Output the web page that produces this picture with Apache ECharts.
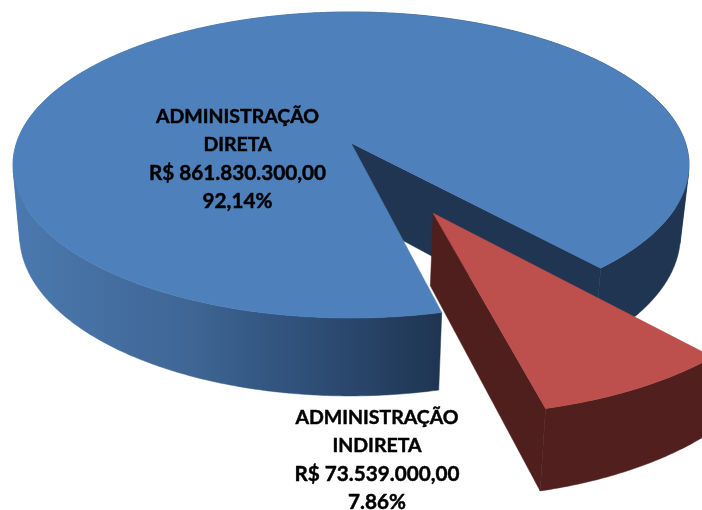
<!DOCTYPE html>
<html>
<head>
<meta charset="utf-8">
<style>html,body{margin:0;padding:0;background:#fff}#c{width:702px;height:510px}</style>
<script src="https://cdn.jsdelivr.net/npm/echarts@6/dist/echarts.min.js"></script>
</head>
<body>
<div id="c"></div>
<script>
var categories = ['ADMINISTRAÇÃO\nDIRETA', 'ADMINISTRAÇÃO\nINDIRETA'];
var values = [861830300, 73539000];
var amountLabels = ['R$ 861.830.300,00', 'R$ 73.539.000,00'];
var percentLabels = ['92,14%', '7.86%'];
var explode = [0, 0.496];

var total = values.reduce(function (a, b) { return a + b; }, 0);
var startDeg = 41.8;
var persp = -0.1438;
var topDisc = { cx: 351, cy: 143, a: 129.3, k: 334.5 };
var baseDisc = { cx: 350, cy: 212, a: 127, k: 327 };
var labelAt = [[237.5, 117], [377, 418]];
var lineStep = 28.2;
var styles = [
  {
    top: '#4e80bb', wall: '#1f3552',
    rim: new echarts.graphic.LinearGradient(20, 0, 440, 0, [
      { offset: 0, color: '#4a78ae' },
      { offset: 0.4, color: '#3f6695' },
      { offset: 0.65, color: '#30527c' },
      { offset: 1, color: '#1f3552' }
    ], true)
  },
  { top: '#bd4f4c', wall: '#4f1f1d', rim: '#501f1e' }
];

function project(disc, u, v) {
  var w = 1 + persp * v;
  return [disc.cx + disc.k * u / w, (disc.cy + disc.a * v) / w];
}
function rimPoints(disc, a0, a1, offU, offV) {
  var out = [];
  var n = Math.max(2, Math.ceil((a1 - a0) / 0.5));
  for (var i = 0; i <= n; i++) {
    var t = (a0 + (a1 - a0) * i / n) * Math.PI / 180;
    out.push(project(disc, offU + Math.sin(t), offV + Math.cos(t)));
  }
  return out;
}
function poly(points, fill) {
  return {
    type: 'polygon',
    shape: { points: points },
    style: { fill: fill, stroke: fill, lineWidth: 0.5 }
  };
}
function textLine(x, y, text, size) {
  return {
    type: 'text',
    z2: 10,
    style: {
      x: x, y: y, text: text,
      font: 'bold ' + size + 'px Lato, "Open Sans", sans-serif',
      fill: '#000', stroke: '#000', lineWidth: 0.45,
      align: 'center', verticalAlign: 'middle'
    }
  };
}
// Splits the side strip where it folds at the silhouette, so each piece fills without holes.
function sidePieces(topRim, baseRim, fill) {
  var pieces = [];
  var start = 0, sign = 0;
  function flush(end) {
    pieces.push(poly(topRim.slice(start, end + 1).concat(baseRim.slice(start, end + 1).reverse()), fill));
  }
  for (var i = 0; i < topRim.length - 1; i++) {
    var rx = baseRim[i][0] - topRim[i][0], ry = baseRim[i][1] - topRim[i][1];
    var ex = topRim[i + 1][0] - topRim[i][0], ey = topRim[i + 1][1] - topRim[i][1];
    var s = rx * ey - ry * ex >= 0 ? 1 : -1;
    if (sign !== 0 && s !== sign) { flush(i); start = i; }
    sign = s;
  }
  flush(topRim.length - 1);
  return pieces;
}

function renderItem(params, api) {
  var idx = params.dataIndex;
  var before = 0;
  for (var i = 0; i < idx; i++) before += values[i];
  var a0 = startDeg + before / total * 360;
  var a1 = a0 + api.value(0) / total * 360;
  var mid = (a0 + a1) / 2 * Math.PI / 180;
  var offU = explode[idx] * Math.sin(mid);
  var offV = explode[idx] * Math.cos(mid);
  var st = styles[idx];

  var topRim = rimPoints(topDisc, a0, a1, offU, offV);
  var baseRim = rimPoints(baseDisc, a0, a1, offU, offV);
  var topApex = project(topDisc, offU, offV);
  var baseApex = project(baseDisc, offU, offV);

  var children = sidePieces(topRim, baseRim, st.rim);
  children.push(poly([topApex, topRim[0], baseRim[0], baseApex], st.wall));
  children.push(poly([topApex].concat(topRim), st.top));

  var lines = categories[idx].split('\n').map(function (t) { return [t, 19.5]; })
    .concat([[amountLabels[idx], 20.7], [percentLabels[idx], 20.7]]);
  lines.forEach(function (l, n) {
    children.push(textLine(labelAt[idx][0], labelAt[idx][1] + n * lineStep, l[0], l[1]));
  });
  return { type: 'group', children: children };
}

var chart = echarts.init(document.getElementById('c'), null, { renderer: 'canvas' });
chart.setOption({
  backgroundColor: '#ffffff',
  animation: false,
  series: [{
    type: 'custom',
    coordinateSystem: 'none',
    silent: true,
    clip: false,
    data: values.map(function (v) { return [v]; }),
    renderItem: renderItem
  }]
});
</script>
</body>
</html>
